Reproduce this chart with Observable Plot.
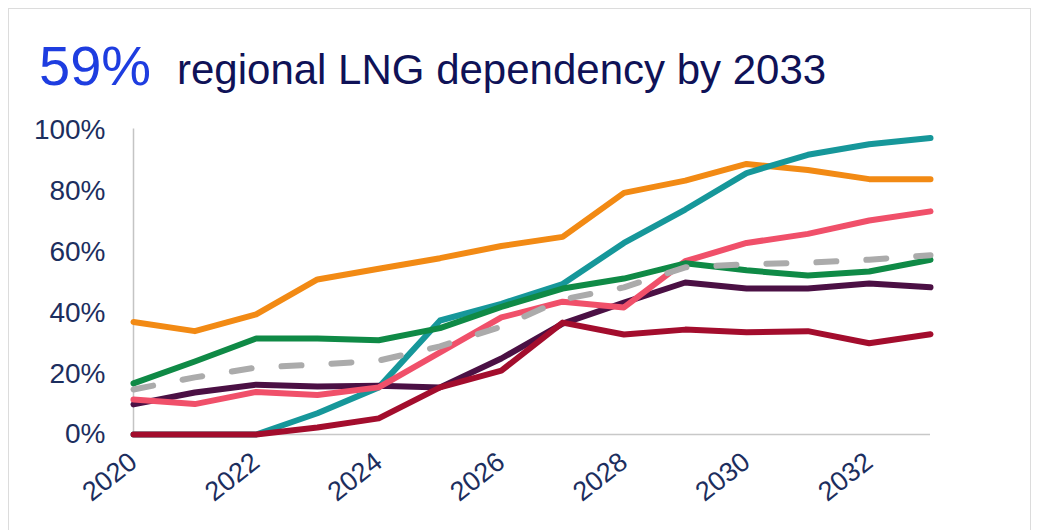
<!DOCTYPE html>
<html>
<head>
<meta charset="utf-8">
<script src="https://cdn.jsdelivr.net/npm/d3@7"></script>
<script src="https://cdn.jsdelivr.net/npm/@observablehq/plot@0.6"></script>
<style>
  html, body { margin: 0; padding: 0; background: #fff; }
  body { width: 1043px; height: 530px; overflow: hidden; position: relative; font-family: "Liberation Sans", Arial, Helvetica, sans-serif; }
  #card { position: absolute; left: 8px; top: 8px; width: 1023px; height: 560px; border: 1px solid #dcdcdc; box-sizing: border-box; }
  #title { position: relative; height: 110px; white-space: nowrap; }
  #title .big { position: absolute; left: 39px; top: 38px; font-size: 56px; color: #1e3de0; line-height: 1; }
  #title .rest { position: absolute; left: 177px; top: 49px; font-size: 42px; color: #0f1257; line-height: 1; }
  #chart { position: relative; }
</style>
</head>
<body>
<div id="card"></div>
<div id="title"><span class="big">59%</span><span class="rest">regional LNG dependency by 2033</span></div>
<div id="chart"></div>
<script>
const years = [2020, 2021, 2022, 2023, 2024, 2025, 2026, 2027, 2028, 2029, 2030, 2031, 2032, 2033];
const orangeSeries = [37, 34, 39.5, 51, 54.5, 58, 62, 65, 79.5, 83.5, 89, 87, 84, 84];
const tealSeries = [0, 0, 0, 7, 15.5, 37.5, 43, 49.5, 63, 74, 86, 92, 95.5, 97.5];
const pinkSeries = [11.5, 10, 14, 13, 15.5, 27, 38.5, 43.7, 41.8, 57, 63, 66, 70.4, 73.4];
const greenSeries = [16.8, 24, 31.6, 31.6, 31, 35, 42, 48, 51.3, 56.3, 54, 52.3, 53.6, 57.5];
const purpleSeries = [9.9, 13.8, 16.4, 15.8, 16, 15.5, 25, 36.5, 43.4, 50, 48, 48, 49.7, 48.4];
const darkRedSeries = [0, 0, 0, 2.3, 5.3, 15.5, 21, 36.8, 32.9, 34.5, 33.6, 34, 30, 33];
const averageSeries = [14.8, 18.8, 22, 23, 24.3, 29, 35.5, 44.4, 48.4, 55, 56, 56.5, 57.5, 59];
const yTicks = [0, 20, 40, 60, 80, 100];
const xTicks = [2020, 2022, 2024, 2026, 2028, 2030, 2032];

const toRows = vals => years.map((year, i) => ({year, value: vals[i]}));
const lineOf = (vals, stroke, extra = {}) => Plot.line(toRows(vals), {
  x: "year", y: "value", stroke, strokeWidth: 6, strokeLinejoin: "round", ...extra
});

const chart = Plot.plot({
  width: 1043,
  height: 420,
  marginTop: 20,
  marginBottom: 96,
  marginLeft: 133,
  marginRight: 113,
  style: {fontFamily: "'Liberation Sans', Arial, Helvetica, sans-serif", background: "transparent", overflow: "visible"},
  x: {domain: [2020, 2033]},
  y: {domain: [0, 100]},
  marks: [
    Plot.ruleX([2020], {y1: 0, y2: 100.5, stroke: "#c4c4c4", strokeWidth: 1.5}),
    Plot.ruleY([0], {x1: 2020, x2: 2033, stroke: "#c8c8c8", strokeWidth: 1.5}),
    Plot.axisY({ticks: yTicks, tickSize: 0, tickPadding: 28, tickFormat: d => d + "%", fontSize: 28, fill: "#1c2e5e", label: null}),
    Plot.axisX({ticks: xTicks, tickSize: 0, tickPadding: 24, tickFormat: d => String(d), tickRotate: -38, fontSize: 27, fill: "#1c2e5e", label: null}),
    lineOf(orangeSeries, "#f28a14"),
    lineOf(tealSeries, "#16979a"),
    lineOf(purpleSeries, "#4b1044"),
    lineOf(pinkSeries, "#f0506a"),
    lineOf(greenSeries, "#0f8a46"),
    lineOf(darkRedSeries, "#a30d2d"),
    lineOf(averageSeries, "#ababab", {strokeDasharray: "20,30", strokeLinecap: "round"})
  ]
});
document.getElementById("chart").appendChild(chart);
</script>
</body>
</html>
